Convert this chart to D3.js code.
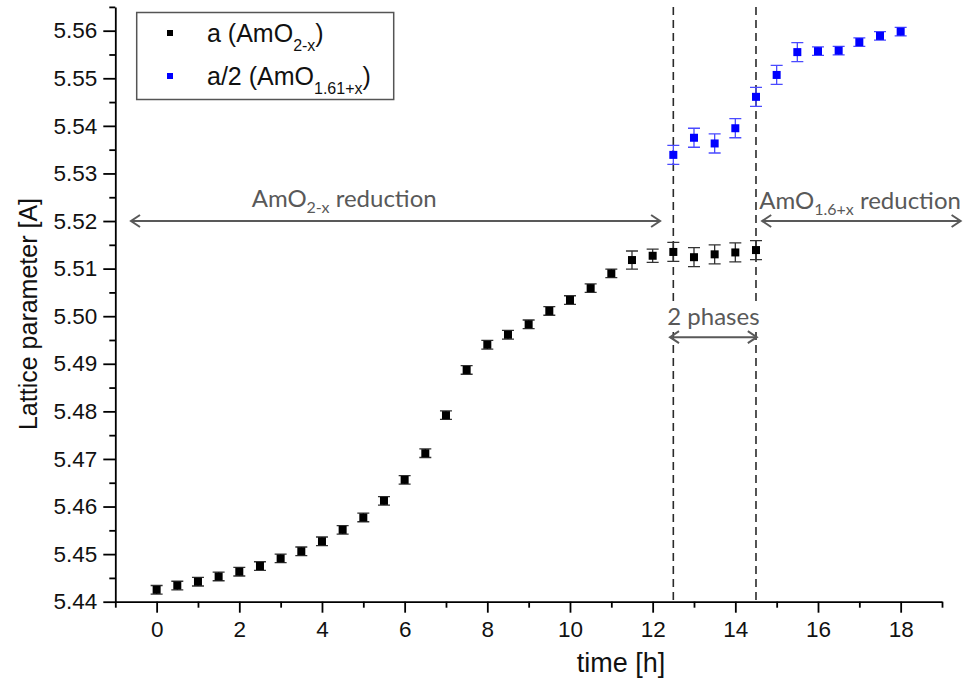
<!DOCTYPE html>
<html><head><meta charset="utf-8">
<script src="https://cdn.jsdelivr.net/npm/d3@7"></script>
<style>
html,body{margin:0;padding:0;background:#fff;}
svg{display:block;}
</style>
</head><body>
<svg id="chart" width="965" height="684"></svg>
<script>
// ---- data ----
const timeA = [0,0.5,1,1.5,2,2.5,3,3.5,4,4.5,5,5.5,6,6.5,7,7.5,8,8.5,9,9.5,10,10.5,11,11.5,12,12.5,13,13.5,14,14.5];
const valueA = [5.4425,5.4434,5.4442,5.4453,5.4463,5.4475,5.4491,5.4506,5.4527,5.4551,5.4577,5.4612,5.4656,5.4712,5.4792,5.4887,5.4940,5.4961,5.4983,5.5011,5.5034,5.5059,5.5090,5.5118,5.5127,5.5135,5.5124,5.5130,5.5134,5.5139];
const errorA = [0.0009,0.0009,0.0009,0.0009,0.0009,0.0009,0.0009,0.0009,0.0009,0.0009,0.0009,0.0009,0.0009,0.0009,0.0009,0.0009,0.0009,0.0009,0.0009,0.0009,0.0009,0.0009,0.0009,0.0019,0.0014,0.0020,0.0020,0.0020,0.0020,0.0020];
const timeB = [12.5,13,13.5,14,14.5,15,15.5,16,16.5,17,17.5,18];
const valueB = [5.5339,5.5375,5.5363,5.5395,5.5461,5.5507,5.5555,5.5557,5.5558,5.5576,5.5589,5.5598];
const errorB = [0.0020,0.0020,0.0020,0.0020,0.0020,0.0020,0.0020,0.0009,0.0009,0.0009,0.0009,0.0009];
const xTicks = [0,2,4,6,8,10,12,14,16,18];
const yTicks = [5.44,5.45,5.46,5.47,5.48,5.49,5.50,5.51,5.52,5.53,5.54,5.55,5.56];
const phaseLines = [12.5,14.5];
const seriesNames = [["a (AmO","2-x",")"],["a/2 (AmO","1.61+x",")"]];
const arrows = [
  {x1:-0.62, x2:12.18, y:5.52, label:["AmO","2-x"," reduction"], lx:2.3, ly:5.5230, anchor:"start", bg:false},
  {x1:14.65, x2:19.45, y:5.52, label:["AmO","1.6+x"," reduction"], lx:14.58, ly:5.5226, anchor:"start", bg:false},
  {x1:12.42, x2:14.52, y:5.4956, label:["2 phases","",""], lx:13.47, ly:5.4982, anchor:"middle", bg:true}
];

// ---- layout ----
const svg = d3.select("#chart");
const x = d3.scaleLinear().domain([-1,19]).range([115.3,942.0]);
const y = d3.scaleLinear().domain([5.44,5.565]).range([601.7,6.9]);

// dashed phase boundaries
svg.append("g").selectAll("line").data(phaseLines).join("line")
  .attr("x1",d=>x(d)).attr("x2",d=>x(d))
  .attr("y1",y(5.565)).attr("y2",y(5.44))
  .attr("stroke","#2a2a2a").attr("stroke-width",1.6)
  .attr("stroke-dasharray","8,5");

// axes
const axisFont = "'Liberation Sans', Arial, sans-serif";
const xMinor = d3.range(-1,20,1).filter(v=>!xTicks.includes(v));
const yMinor = d3.range(0,26).map(i=>+(5.44+i*0.005).toFixed(3)).filter(v=>!yTicks.some(t=>Math.abs(t-v)<1e-9));

const gx = svg.append("g").attr("transform",`translate(0,${y(5.44)})`);
gx.call(d3.axisBottom(x).tickValues(xTicks).tickSize(11).tickSizeOuter(0).tickPadding(8).tickFormat(d3.format("d")));
const gxm = svg.append("g").attr("transform",`translate(0,${y(5.44)})`);
gxm.call(d3.axisBottom(x).tickValues(xMinor).tickSize(6).tickSizeOuter(0).tickFormat(""));
gxm.select(".domain").remove();

const gy = svg.append("g").attr("transform",`translate(${x(-1)},0)`);
gy.call(d3.axisLeft(y).tickValues(yTicks).tickSize(12).tickSizeOuter(0).tickPadding(6).tickFormat(d3.format(".2f")));
const gym = svg.append("g").attr("transform",`translate(${x(-1)},0)`);
gym.call(d3.axisLeft(y).tickValues(yMinor).tickSize(6).tickSizeOuter(0).tickFormat(""));
gym.select(".domain").remove();

svg.selectAll(".domain").attr("stroke","#000").attr("stroke-width",1.8);
svg.selectAll(".tick line").attr("stroke","#000").attr("stroke-width",1.8);
svg.selectAll(".tick text").attr("font-family",axisFont).attr("font-size",22.5).attr("fill","#111");

// axis titles
svg.append("text").attr("x",621).attr("y",672).attr("text-anchor","middle")
  .attr("font-family",axisFont).attr("font-size",27).attr("fill","#111").text("time [h]");
svg.append("text").attr("transform","translate(37,314) rotate(-90)").attr("text-anchor","middle")
  .attr("font-family",axisFont).attr("font-size",25).attr("fill","#111").text("Lattice parameter [A]");

// error bars + markers
function drawSeries(ts, vs, es, fill, barCol){
  const g = svg.append("g");
  const d = ts.map((t,i)=>({t, v:vs[i], e:es[i]}));
  g.selectAll("path.eb").data(d).join("path").attr("class","eb")
    .attr("d",p=>{
      const cx = x(p.t), y1 = y(p.v+p.e), y2 = y(p.v-p.e);
      return `M${cx},${y1}V${y2}M${cx-6},${y1}H${cx+6}M${cx-6},${y2}H${cx+6}`;
    })
    .attr("stroke",barCol).attr("stroke-width",1.3).attr("fill","none");
  g.selectAll("rect").data(d).join("rect")
    .attr("x",p=>x(p.t)-4).attr("y",p=>y(p.v)-4)
    .attr("width",8).attr("height",8).attr("fill",fill);
}
drawSeries(timeA, valueA, errorA, "#000", "#333");
drawSeries(timeB, valueB, errorB, "#0000ff", "#4a4aff");

// annotations
const annCol = "#595959";
const annFont = "Lato, 'Open Sans', sans-serif";
const defs = svg.append("defs");
["s","e"].forEach(k=>{
  defs.append("marker").attr("id","arr-"+k).attr("viewBox","-10 -7 12 14")
    .attr("refX",0).attr("refY",0).attr("markerWidth",12).attr("markerHeight",14)
    .attr("markerUnits","userSpaceOnUse").attr("orient", k==="e"?"auto":"auto-start-reverse")
    .append("path").attr("d","M-9,-6L0,0L-9,6").attr("fill","none")
    .attr("stroke",annCol).attr("stroke-width",2);
});
arrows.forEach(a=>{
  const g = svg.append("g");
  const bgRect = a.bg ? g.append("rect").attr("fill","#fff") : null;
  g.append("line").attr("x1",x(a.x1)).attr("x2",x(a.x2)).attr("y1",y(a.y)).attr("y2",y(a.y))
    .attr("stroke",annCol).attr("stroke-width",2)
    .attr("marker-start","url(#arr-s)").attr("marker-end","url(#arr-e)");
  const t = g.append("text").attr("x",x(a.lx)).attr("y",y(a.ly)).attr("text-anchor",a.anchor)
    .attr("font-family",annFont).attr("font-size",24).attr("fill",annCol);
  t.append("tspan").text(a.label[0]);
  if(a.label[1]){
    t.append("tspan").attr("font-size",16).attr("dy",6).text(a.label[1]);
    t.append("tspan").attr("dy",-6).text(a.label[2]);
  }
  if(bgRect){
    const b = t.node().getBBox();
    bgRect.attr("x",b.x-1).attr("y",b.y+2).attr("width",b.width+2).attr("height",b.height-2);
  }
});

// legend
const lg = svg.append("g");
lg.append("rect").attr("x",136.7).attr("y",12.5).attr("width",257).attr("height",87)
  .attr("fill","#fff").attr("stroke","#555").attr("stroke-width",1.5);
const legCols = ["#000","#0000ff"];
seriesNames.forEach((nm,i)=>{
  const cy = 33 + i*43;
  lg.append("rect").attr("x",167).attr("y",cy-3).attr("width",6).attr("height",6).attr("fill",legCols[i]);
  const t = lg.append("text").attr("x",207).attr("y",cy+8.5)
    .attr("font-family",axisFont).attr("font-size",25).attr("fill","#111");
  t.append("tspan").text(nm[0]);
  t.append("tspan").attr("font-size",16).attr("dy",9).text(nm[1]);
  t.append("tspan").attr("dy",-9).text(nm[2]);
});
</script>
</body></html>
